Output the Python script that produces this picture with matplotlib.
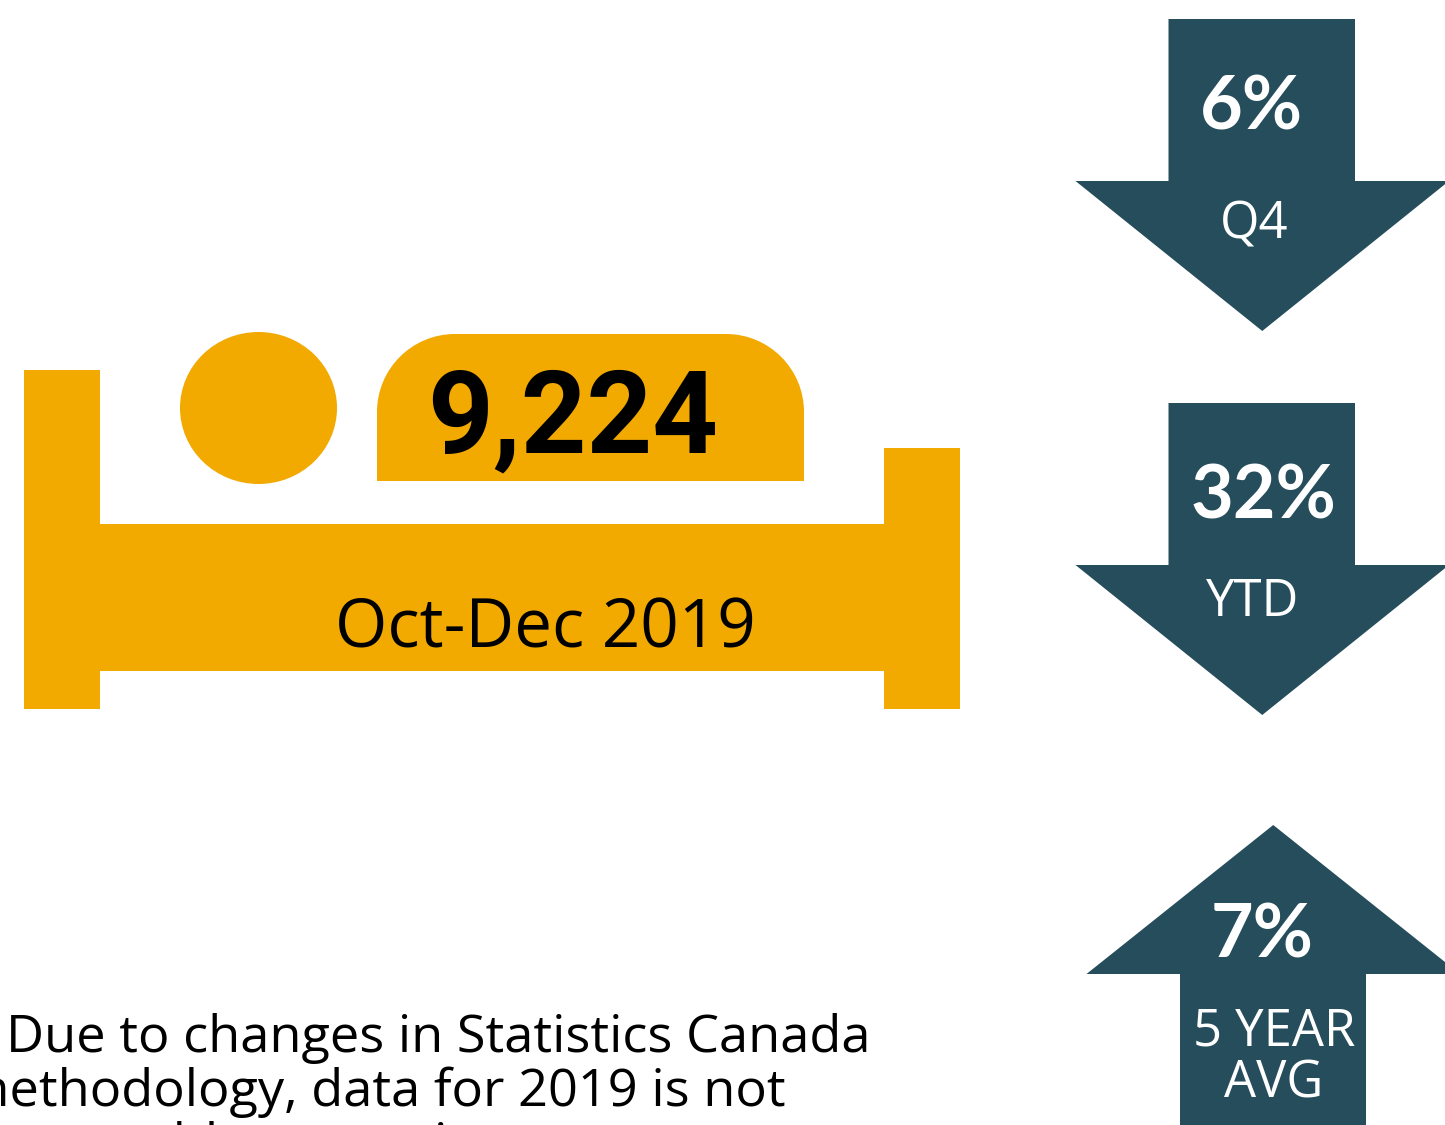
import matplotlib
matplotlib.use("Agg")
import matplotlib.pyplot as plt
from matplotlib.patches import Polygon, Rectangle, Ellipse, PathPatch
from matplotlib.path import Path

W, H = 1445, 1125
GOLD = "#F2A900"
TEAL = "#264D5C"
total_value = "9,224"
period_label = "Oct-Dec 2019"
arrow_values = ["6%", "32%", "7%"]
arrow_labels = ["Q4", "YTD", "5 YEAR\nAVG"]
note_lines = ["Due to changes in Statistics Canada", "methodology, data for 2019 is not", "comparable to previous years"]

fig = plt.figure(figsize=(W/100, H/100), dpi=100)
ax = fig.add_axes([0, 0, 1, 1])
ax.set_xlim(0, W); ax.set_ylim(H, 0); ax.axis("off")

# bed
ax.add_patch(Rectangle((24, 370), 76, 339, fc=GOLD, ec="none"))
ax.add_patch(Rectangle((884, 448), 76, 261, fc=GOLD, ec="none"))
ax.add_patch(Rectangle((100, 524), 784, 147, fc=GOLD, ec="none"))
ax.add_patch(Ellipse((258.5, 408), 157, 152, fc=GOLD, ec="none"))
x0, x1, y0, y1, r = 377, 804, 334, 481, 78
k = 0.5523 * r
verts = [(x0, y1), (x0, y0+r), (x0, y0+r-k), (x0+r-k, y0), (x0+r, y0), (x1-r, y0),
         (x1-r+k, y0), (x1, y0+r-k), (x1, y0+r), (x1, y1), (x0, y1)]
codes = [Path.MOVETO, Path.LINETO, Path.CURVE4, Path.CURVE4, Path.CURVE4, Path.LINETO,
         Path.CURVE4, Path.CURVE4, Path.CURVE4, Path.LINETO, Path.CLOSEPOLY]
ax.add_patch(PathPatch(Path(verts, codes), fc=GOLD, ec="none"))

ax.text(573, 421, total_value, fontsize=82.5, fontweight="bold", family="Roboto", ha="center", va="center", color="black")
ax.text(545, 630, period_label, fontsize=48.5, family="Open Sans", ha="center", va="center", color="black")

# arrows
def down(l, r, sl, sr, top, sh, tip):
    ax.add_patch(Polygon([(sl, top), (sr, top), (sr, sh), (r, sh), ((l+r)/2, tip), (l, sh), (sl, sh)], fc=TEAL, ec="none"))
def up(l, r, sl, sr, tip, sh, bot):
    ax.add_patch(Polygon([((l+r)/2, tip), (r, sh), (sr, sh), (sr, bot), (sl, bot), (sl, sh), (l, sh)], fc=TEAL, ec="none"))
down(1075.5, 1449, 1168.5, 1355, 19, 181, 331)
down(1075.5, 1449, 1168.5, 1355, 403, 565, 715)
up(1086.5, 1460, 1180, 1366, 825, 974, 1140)

vy = [108, 497, 936]; vx = [1251, 1263, 1262]
ly = [225, 602, 1058]; lx = [1254, 1253, 1274]
for v, l, a, b, c, d in zip(arrow_values, arrow_labels, vx, vy, lx, ly):
    ax.text(a, b, v, fontsize=53, fontweight="bold", family="Lato", ha="center", va="center", color="white")
    ax.text(c, d, l, fontsize=36.5, family="Open Sans", ha="center", va="center", color="white", linespacing=1.0)

# note lines sit against the lower-left corner and run off the canvas, as in the reference
note_right = [870, 786, 681]
note_y = [1052, 1106, 1160]
for t, x, y in zip(note_lines, note_right, note_y):
    ax.text(x, y, t, fontsize=37.7, family="Open Sans", ha="right", va="baseline", color="black", clip_on=True)

fig.savefig("out.png", dpi=100)
